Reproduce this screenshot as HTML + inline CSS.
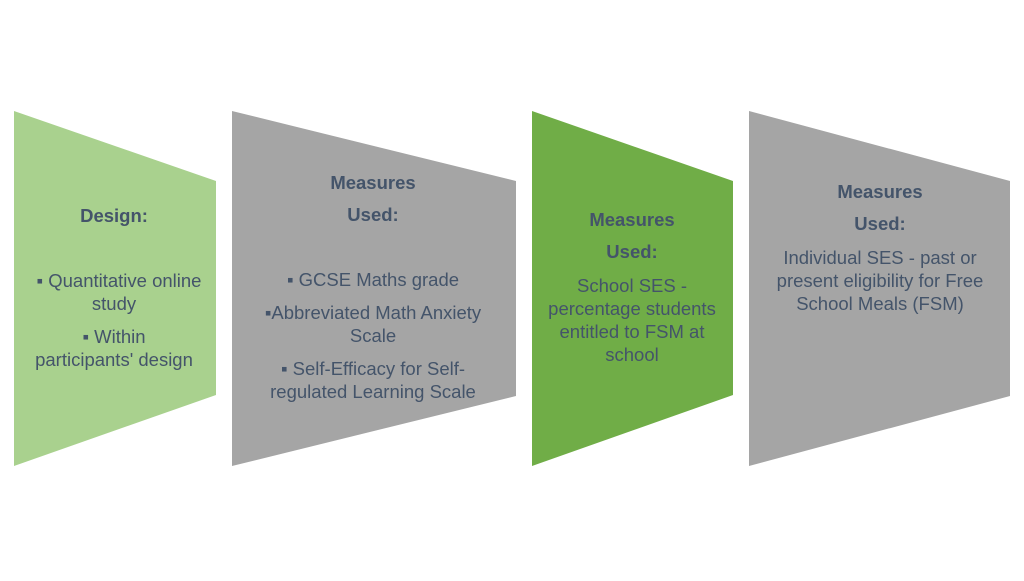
<!DOCTYPE html>
<html><head><style>
body{margin:0;background:#fff;}
svg text{font-family:"Liberation Sans",sans-serif;font-size:18.5px;fill:#44546a;text-anchor:middle;}
svg text.b{font-weight:bold;}
</style></head><body>
<svg width="1024" height="576" xmlns="http://www.w3.org/2000/svg">
<polygon points="14,111 216,181 216,395 14,466" fill="#a9d18e"/>
<polygon points="232,111 516,181 516,396 232,466" fill="#a5a5a5"/>
<polygon points="532,111 733,181 733,395 532,466" fill="#70ad47"/>
<polygon points="749,111 1010,181 1010,396 749,466" fill="#a5a5a5"/>

<text class="b" x="114" y="222">Design:</text>
<text x="119" y="287">▪ Quantitative online</text>
<text x="114" y="310">study</text>
<text x="114" y="343">▪ Within</text>
<text x="114" y="366">participants' design</text>

<text class="b" x="373" y="189">Measures</text>
<text class="b" x="373" y="221">Used:</text>
<text x="373" y="286">▪ GCSE Maths grade</text>
<text x="373" y="319">▪Abbreviated Math Anxiety</text>
<text x="373" y="342">Scale</text>
<text x="373" y="375">▪ Self-Efficacy for Self-</text>
<text x="373" y="398">regulated Learning Scale</text>

<text class="b" x="632" y="226">Measures</text>
<text class="b" x="632" y="258">Used:</text>
<text x="632" y="292">School SES -</text>
<text x="632" y="315">percentage students</text>
<text x="632" y="338">entitled to FSM at</text>
<text x="632" y="361">school</text>

<text class="b" x="880" y="198">Measures</text>
<text class="b" x="880" y="230">Used:</text>
<text x="880" y="264">Individual SES  - past or</text>
<text x="880" y="287">present eligibility for Free</text>
<text x="880" y="310">School Meals (FSM)</text>
</svg>
</body></html>
